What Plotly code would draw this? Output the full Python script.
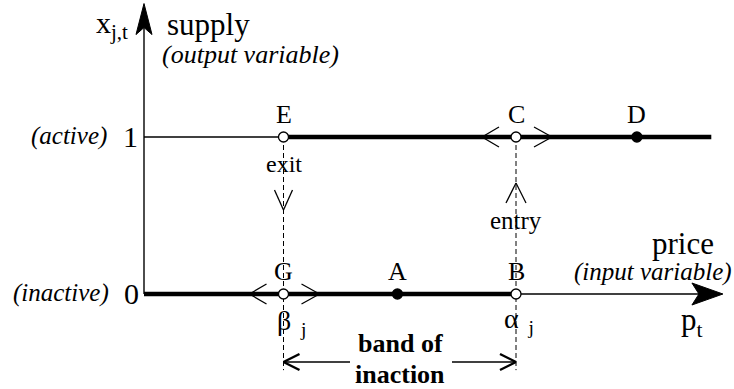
import plotly.graph_objects as go

# price thresholds and reference points (price units, supply 0/1)
beta_j = 3.0
alpha_j = 8.0
price_end = 12.2
price_tip = 12.45
supply_tip = 1.85
dash_bottom = -0.485

point_names = ["G", "A", "B", "E", "C", "D"]
point_price = [3.0, 5.45, 8.0, 3.0, 8.0, 10.6]
point_supply = [0, 0, 0, 1, 1, 1]
point_open = [True, False, True, True, True, False]

# pixel scale of the diagram (origin at px 144 / 294)
X0, Y0 = 144, 294
SX, SY = 46.5, 157.0
W, H = 734, 389

FONT = "Liberation Serif"


def px(x_pix):
    return (x_pix - X0) / SX


def py(y_pix):
    return (Y0 - y_pix) / SY


def ux(d):
    return d / SX


def uy(d):
    return d / SY


fig = go.Figure()

# thin lines: y=1 before beta, axes
fig.add_trace(go.Scatter(x=[0, beta_j], y=[1, 1], mode="lines",
                         line=dict(color="black", width=1.4), hoverinfo="skip"))
fig.add_trace(go.Scatter(x=[0, price_tip - ux(10)], y=[0, 0], mode="lines",
                         line=dict(color="black", width=1.4), hoverinfo="skip"))
fig.add_trace(go.Scatter(x=[0, 0], y=[0, supply_tip - uy(10)], mode="lines",
                         line=dict(color="black", width=1.4), hoverinfo="skip"))

# dashed verticals at the thresholds
for p in [beta_j, alpha_j]:
    fig.add_trace(go.Scatter(x=[p, p], y=[1, dash_bottom], mode="lines",
                             line=dict(color="black", width=1, dash="5px,3px"),
                             hoverinfo="skip"))

# thick supply segments
fig.add_trace(go.Scatter(x=[0, alpha_j], y=[0, 0], mode="lines",
                         line=dict(color="black", width=4.5), hoverinfo="skip"))
fig.add_trace(go.Scatter(x=[beta_j, price_end], y=[1, 1], mode="lines",
                         line=dict(color="black", width=4.5), hoverinfo="skip"))

shapes = []


def seg(x1, y1, x2, y2, w=1.3):
    shapes.append(dict(type="line", xref="x", yref="y", x0=x1, y0=y1, x1=x2, y1=y2,
                       line=dict(color="black", width=w)))


def chevrons(cx, cy):
    # "<" left and ">" right of a threshold point
    seg(cx - ux(17), cy + uy(10), cx - ux(34), cy)
    seg(cx - ux(34), cy, cx - ux(17), cy - uy(10))
    seg(cx + ux(18), cy + uy(10), cx + ux(36), cy)
    seg(cx + ux(36), cy, cx + ux(18), cy - uy(10))


chevrons(alpha_j, 1)
chevrons(beta_j, 0)

# exit arrow (down) and entry arrow (up)
seg(beta_j - ux(9), py(190), beta_j, py(210))
seg(beta_j, py(210), beta_j + ux(9), py(190))
seg(alpha_j - ux(10), py(203), alpha_j, py(183))
seg(alpha_j, py(183), alpha_j + ux(10), py(203))

# band of inaction arrows
yb = py(362)
seg(beta_j, yb, px(350), yb, 1.6)
seg(px(452), yb, alpha_j, yb, 1.6)
seg(beta_j + ux(16), yb + uy(8), beta_j, yb, 2.4)
seg(beta_j, yb, beta_j + ux(16), yb - uy(8), 2.4)
seg(alpha_j - ux(16), yb + uy(8), alpha_j, yb, 2.4)
seg(alpha_j, yb, alpha_j - ux(16), yb - uy(8), 2.4)

# axis arrowheads (notched triangles)
shapes.append(dict(type="path", xref="x", yref="y",
                   path=(f"M 0,{supply_tip} L {-ux(8)},{supply_tip - uy(31)} "
                         f"L 0,{supply_tip - uy(24)} L {ux(8)},{supply_tip - uy(31)} Z"),
                   fillcolor="black", line=dict(color="black", width=1)))
shapes.append(dict(type="path", xref="x", yref="y",
                   path=(f"M {price_tip},0 L {price_tip - ux(31)},{uy(11)} "
                         f"L {price_tip - ux(24)},0 L {price_tip - ux(31)},{-uy(11)} Z"),
                   fillcolor="black", line=dict(color="black", width=1)))

# points
for name, xp, yp, is_open in zip(point_names, point_price, point_supply, point_open):
    fig.add_trace(go.Scatter(
        x=[xp], y=[yp], mode="markers",
        marker=dict(size=10, color="white" if is_open else "black",
                    line=dict(color="black", width=1.3)),
        hoverinfo="skip"))

annotations = []


def label(text, x, y, size=25, xanchor="center", italic=False, bold=False):
    if italic:
        text = f"<i>{text}</i>"
    if bold:
        text = f"<b>{text}</b>"
    annotations.append(dict(text=text, x=x, y=y, xref="x", yref="y", showarrow=False,
                            xanchor=xanchor, yanchor="middle",
                            font=dict(family=FONT, size=size, color="black")))


for name, xp, yp in zip(point_names, point_price, point_supply):
    label(name, xp, yp + uy(23), size=26)

label("x<sub>j,t</sub>", px(130), py(25), size=30, xanchor="right")
label("supply", px(165), py(24), size=31, xanchor="left")
label("(output variable)", px(160), py(54), size=26, xanchor="left", italic=True)
label("(active)", px(109), py(136), size=25, xanchor="right", italic=True)
label("1", px(130), py(136), size=30)
label("(inactive)", px(111), py(293), size=25, xanchor="right", italic=True)
label("0", px(131), py(293), size=30)
label("exit", beta_j, py(164), size=24)
label("entry", alpha_j, py(220), size=25)
label("price", px(683), py(243), size=31)
label("(input variable)", px(734), py(272), size=25, xanchor="right", italic=True)
label("p<sub>t</sub>", px(692), py(322), size=31)
label("β<sub>  j</sub>", beta_j + ux(8), py(322), size=28)
label("α<sub>  j</sub>", alpha_j + ux(3), py(320), size=28)
label("band of", px(400), py(343), size=26, bold=True)
label("inaction", px(400), py(374), size=26, bold=True)

fig.update_layout(
    width=W, height=H,
    margin=dict(l=0, r=0, t=0, b=0),
    paper_bgcolor="white", plot_bgcolor="white",
    showlegend=False,
    xaxis=dict(range=[px(0), px(W)], visible=False, fixedrange=True),
    yaxis=dict(range=[py(H), py(0)], visible=False, fixedrange=True),
    shapes=shapes,
    annotations=annotations,
)

fig.write_html("out.html", config=dict(displayModeBar=False),
               post_script="document.body.style.margin='0';document.body.style.overflow='hidden';")
